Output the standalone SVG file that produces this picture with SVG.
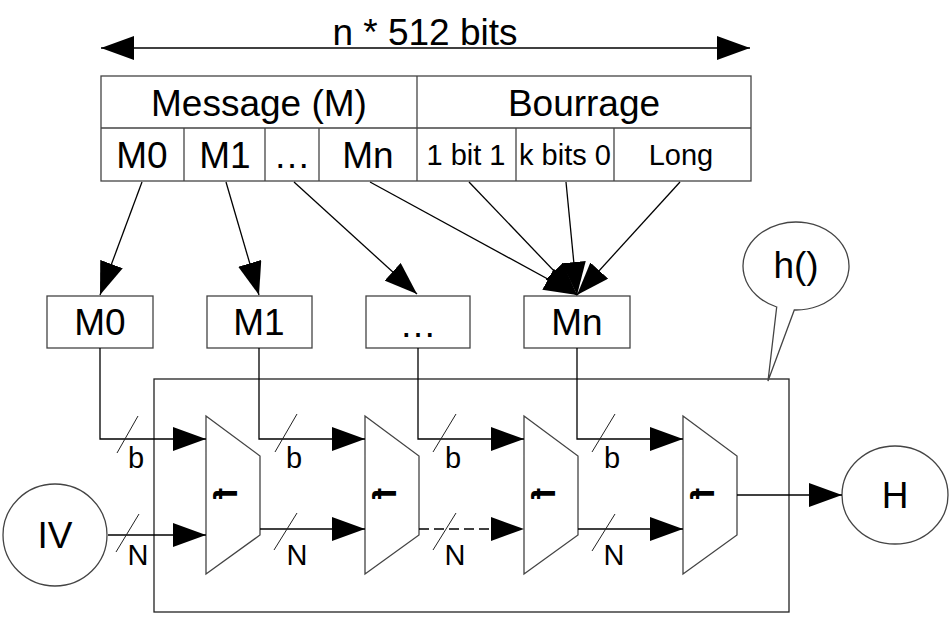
<svg xmlns="http://www.w3.org/2000/svg" width="951" height="643" viewBox="0 0 951 643">
<style>
text{font-family:"Liberation Sans",Arial,sans-serif;fill:#000}
.big{font-size:37px;text-anchor:middle}
.mid{font-size:29px;text-anchor:middle}
.box{font-size:37px;text-anchor:middle}
.lbl{font-size:29px;text-anchor:middle}
.fx{font-size:110px;font-weight:700}
.shape{fill:#fff;stroke:#444;stroke-width:1.3}
.ln{fill:none;stroke:#000;stroke-width:1.3}
.grid{fill:none;stroke:#444;stroke-width:1.3}
.arr{marker-end:url(#ah)}
.sl{stroke:#222;stroke-width:1}
</style>
<defs>
<marker id="ah" markerUnits="userSpaceOnUse" markerWidth="34" markerHeight="24" refX="33" refY="12" orient="auto">
<path d="M0,0 L33,12 L0,24 z" fill="#000"/>
</marker>
<marker id="ah2" markerUnits="userSpaceOnUse" markerWidth="34" markerHeight="24" refX="33" refY="12" orient="auto-start-reverse">
<path d="M0,0 L33,12 L0,24 z" fill="#000"/>
</marker>
</defs>
<rect width="951" height="643" fill="#fff"/>

<g id="size-label">
<line x1="101" y1="48" x2="750" y2="48" class="ln" marker-start="url(#ah2)" marker-end="url(#ah2)"/>
<text x="425" y="45" class="big">n * 512 bits</text>
</g>

<g id="message-table">
<rect x="101" y="76" width="650" height="105" class="shape"/>
<line x1="101" y1="128" x2="751" y2="128" class="grid"/>
<line x1="417" y1="76" x2="417" y2="181" class="grid"/>
<line x1="184" y1="128" x2="184" y2="181" class="grid"/>
<line x1="265" y1="128" x2="265" y2="181" class="grid"/>
<line x1="319" y1="128" x2="319" y2="181" class="grid"/>
<line x1="516" y1="128" x2="516" y2="181" class="grid"/>
<line x1="614" y1="128" x2="614" y2="181" class="grid"/>
<text x="259" y="116" class="big">Message (M)</text>
<text x="584" y="116" class="big">Bourrage</text>
<text x="142" y="168" class="big">M0</text>
<text x="225" y="168" class="big">M1</text>
<text x="292" y="168" class="big">…</text>
<text x="368" y="168" class="big">Mn</text>
<text x="466" y="165" class="mid">1 bit 1</text>
<text x="565" y="165" class="mid">k bits 0</text>
<text x="681" y="165" class="mid">Long</text>
</g>

<g id="box-m0"><rect x="47" y="296" width="106" height="52" class="shape"/><text x="100" y="335" class="box">M0</text></g>
<g id="box-m1"><rect x="207" y="296" width="105" height="52" class="shape"/><text x="259" y="335" class="box">M1</text></g>
<g id="box-dots"><rect x="366" y="296" width="104" height="52" class="shape"/><text x="418" y="337" class="box">…</text></g>
<g id="box-mn"><rect x="524" y="296" width="106" height="52" class="shape"/><text x="577" y="335" class="box">Mn</text></g>

<g id="hash-h"><rect x="154" y="379" width="635" height="233" fill="none" stroke="#222" stroke-width="1.3"/></g>

<g id="callout-h">
<path d="M794.3,310 A53,44 0 1 0 776.7,307 L768,381 Z" class="shape" stroke="#222"/>
<text x="796" y="278" class="box">h()</text>
</g>

<g id="f1"><path d="M206,416 L260,456 L260,535 L206,574 Z" class="shape"/><text class="fx" transform="translate(237,488) rotate(-90) scale(-0.3,0.3)">f</text></g>
<g id="f2"><path d="M365,416 L419,456 L419,535 L365,574 Z" class="shape"/><text class="fx" transform="translate(396,488) rotate(-90) scale(-0.3,0.3)">f</text></g>
<g id="f3"><path d="M524,416 L578,456 L578,535 L524,574 Z" class="shape"/><text class="fx" transform="translate(555,488) rotate(-90) scale(-0.3,0.3)">f</text></g>
<g id="f4"><path d="M683,416 L737,456 L737,535 L683,574 Z" class="shape"/><text class="fx" transform="translate(714,488) rotate(-90) scale(-0.3,0.3)">f</text></g>

<g id="iv"><ellipse cx="55" cy="535" rx="52" ry="51" class="shape" stroke="#222"/><text x="55" y="548" class="box">IV</text></g>
<g id="h-out"><ellipse cx="895" cy="495" rx="53" ry="49" class="shape" stroke="#222"/><text x="895" y="508" class="box">H</text></g>

<g id="connectors">
<line x1="142" y1="182" x2="100" y2="295" class="ln arr"/>
<line x1="226" y1="182" x2="259" y2="295" class="ln arr"/>
<line x1="294" y1="182" x2="417" y2="294" class="ln arr"/>
<line x1="370" y1="182" x2="577" y2="295" class="ln arr"/>
<line x1="469" y1="182" x2="577" y2="295" class="ln arr"/>
<line x1="566" y1="182" x2="577" y2="295" class="ln arr"/>
<line x1="680" y1="182" x2="577" y2="295" class="ln arr"/>

<polyline points="100,348 100,439 206,439" class="ln arr"/>
<polyline points="259,348 259,439 365,439" class="ln arr"/>
<polyline points="418,348 418,439 524,439" class="ln arr"/>
<polyline points="577,348 577,439 683,439" class="ln arr"/>

<line x1="108" y1="535" x2="206" y2="535" class="ln arr"/>
<line x1="260" y1="529" x2="365" y2="529" class="ln arr"/>
<line x1="419" y1="529" x2="524" y2="529" class="ln arr" stroke-dasharray="10,5"/>
<line x1="578" y1="529" x2="683" y2="529" class="ln arr"/>
<line x1="737" y1="495" x2="842" y2="495" class="ln arr"/>

<g class="sl">
<line x1="117" y1="453" x2="138" y2="416"/>
<line x1="275" y1="452" x2="297" y2="414"/>
<line x1="433" y1="452" x2="456" y2="414"/>
<line x1="592" y1="452" x2="615" y2="414"/>
<line x1="116" y1="552" x2="139" y2="514"/>
<line x1="274" y1="550" x2="297" y2="513"/>
<line x1="433" y1="550" x2="456" y2="513"/>
<line x1="592" y1="551" x2="615" y2="514"/>
</g>
<text x="136" y="468" class="lbl">b</text>
<text x="294" y="468" class="lbl">b</text>
<text x="453" y="468" class="lbl">b</text>
<text x="612" y="468" class="lbl">b</text>
<text x="138" y="565" class="lbl">N</text>
<text x="297" y="565" class="lbl">N</text>
<text x="455" y="565" class="lbl">N</text>
<text x="614" y="565" class="lbl">N</text>
</g>
</svg>
